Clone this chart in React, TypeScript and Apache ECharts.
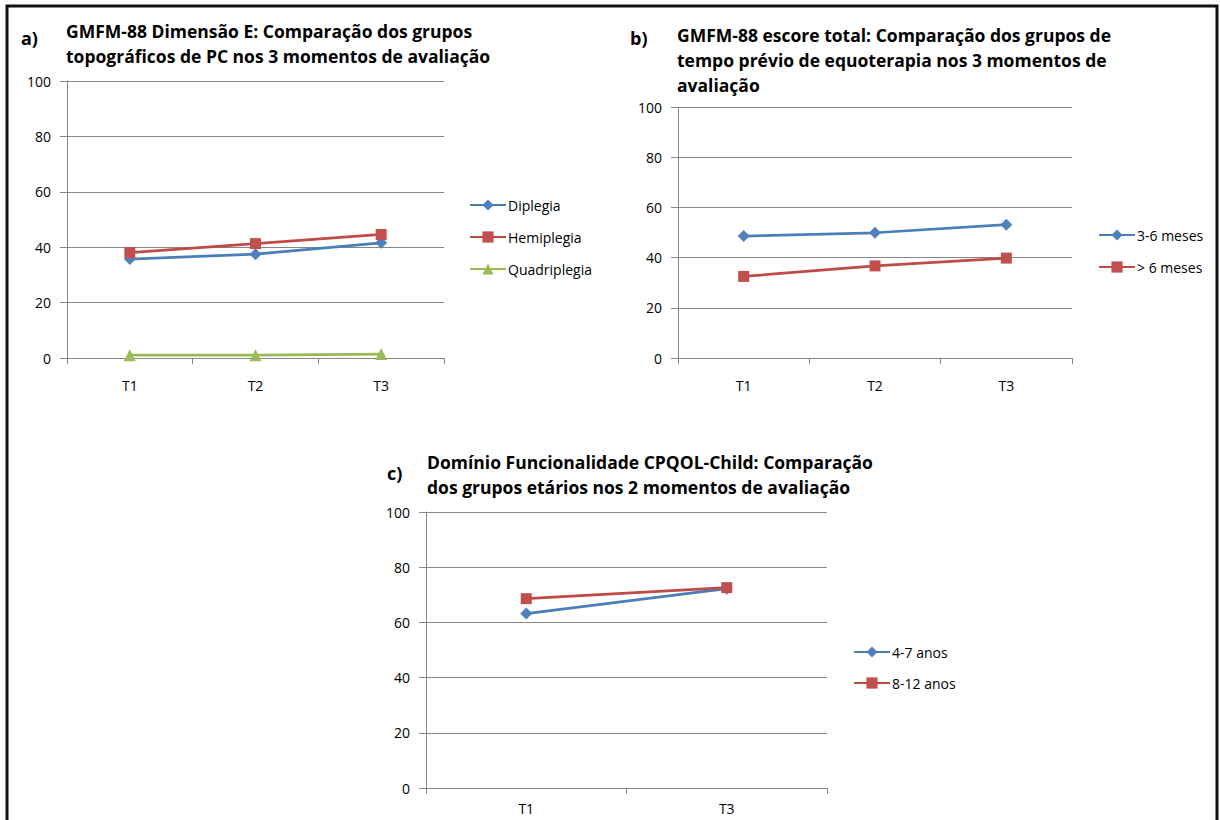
import React, { useEffect, useRef } from "react";
import * as echarts from "echarts";

// ---- data ----
const categoriesA = ["T1", "T2", "T3"];
const diplegia = [35.7, 37.5, 41.6];
const hemiplegia = [38.0, 41.3, 44.6];
const quadriplegia = [1.0, 1.0, 1.4];

const categoriesB = ["T1", "T2", "T3"];
const meses3a6 = [48.6, 49.9, 53.1];
const mesesMais6 = [32.5, 36.7, 39.8];

const categoriesC = ["T1", "T3"];
const anos4a7 = [63.2, 72.2];
const anos8a12 = [68.6, 72.6];

const titleA = "GMFM-88 Dimensão E: Comparação dos grupos\ntopográficos de PC nos 3 momentos de avaliação";
const titleB = "GMFM-88 escore total: Comparação dos grupos de\ntempo prévio de equoterapia nos 3 momentos de\navaliação";
const titleC = "Domínio Funcionalidade CPQOL-Child: Comparação\ndos grupos etários nos 2 momentos de avaliação";

const FONT = "'Open Sans', 'DejaVu Sans', sans-serif";
const BLUE_LINE = "#4a7ebb";
const BLUE = "#4f81bd";
const RED_LINE = "#be4b48";
const RED = "#c0504d";
const GREEN_LINE = "#98b954";
const GREEN = "#9bbb59";
const GRID = "#868686";

export default function App() {
  const ref = useRef<HTMLDivElement>(null);
  useEffect(() => {
    document.body.style.margin = "0";
    const chart = echarts.init(ref.current!, undefined, { renderer: "svg" });

    const grids = [
      { left: 67, top: 81, width: 377, height: 277 },
      { left: 678, top: 107, width: 394, height: 251 },
      { left: 426, top: 512, width: 401, height: 276 },
    ];
    const cats = [categoriesA, categoriesB, categoriesC];
    const xMargins = [20, 20, 13];

    const xAxes = cats.map((c, i) => ({
      type: "category",
      gridIndex: i,
      data: c,
      boundaryGap: true,
      axisLine: { lineStyle: { color: GRID, width: 1 } },
      axisTick: { show: true, length: 6, interval: 0, lineStyle: { color: GRID } },
      axisLabel: { color: "#000", fontFamily: FONT, fontSize: 14, margin: xMargins[i] },
    }));
    const yAxes = cats.map((_, i) => ({
      type: "value",
      gridIndex: i,
      min: 0,
      max: 100,
      interval: 20,
      axisLine: { show: true, lineStyle: { color: GRID, width: 1 } },
      axisTick: { show: true, length: 7, lineStyle: { color: GRID } },
      axisLabel: { color: "#000", fontFamily: FONT, fontSize: 14, margin: 16 },
      splitLine: { show: true, lineStyle: { color: GRID, width: 1 } },
    }));

    const mk = (name: string, data: number[], idx: number, lineColor: string, color: string, symbol: string, size: number) => ({
      name,
      type: "line",
      xAxisIndex: idx,
      yAxisIndex: idx,
      data,
      symbol,
      symbolSize: size,
      lineStyle: { color: lineColor, width: 2.75 },
      itemStyle: { color },
      emphasis: { disabled: true },
    });

    const legendBase = {
      orient: "vertical",
      itemWidth: 36,
      itemHeight: 14,
      itemGap: 18,
      padding: 0,
      textStyle: { color: "#000", fontFamily: FONT, fontSize: 14, padding: [0, 0, 0, -3] },
      selectedMode: false,
    };

    const titleStyle = { color: "#000", fontFamily: FONT, fontSize: 17.5, fontWeight: "bold", lineHeight: 25 };
    const labelStyle = { color: "#000", fontFamily: FONT, fontSize: 18, fontWeight: "bold" };

    chart.setOption({
      animation: false,
      backgroundColor: "#fff",
      title: [
        { text: "a)", left: 21, top: 29, textStyle: labelStyle, padding: 0 },
        { text: titleA, left: 66, top: 18, textStyle: titleStyle, padding: 0 },
        { text: "b)", left: 630, top: 29, textStyle: labelStyle, padding: 0 },
        { text: titleB, left: 677, top: 22, textStyle: titleStyle, padding: 0 },
        { text: "c)", left: 387, top: 464, textStyle: labelStyle, padding: 0 },
        { text: titleC, left: 427, top: 449, textStyle: titleStyle, padding: 0 },
      ],
      grid: grids,
      xAxis: xAxes,
      yAxis: yAxes,
      legend: [
        { ...legendBase, data: ["Diplegia", "Hemiplegia", "Quadriplegia"], left: 469, top: 198 },
        { ...legendBase, data: ["3-6 meses", "> 6 meses"], left: 1098, top: 228 },
        { ...legendBase, data: ["4-7 anos", "8-12 anos"], left: 853, top: 645, itemGap: 17 },
      ],
      series: [
        mk("Diplegia", diplegia, 0, BLUE_LINE, BLUE, "diamond", 12),
        mk("Hemiplegia", hemiplegia, 0, RED_LINE, RED, "rect", 11),
        mk("Quadriplegia", quadriplegia, 0, GREEN_LINE, GREEN, "triangle", 12),
        mk("3-6 meses", meses3a6, 1, BLUE_LINE, BLUE, "diamond", 12),
        mk("> 6 meses", mesesMais6, 1, RED_LINE, RED, "rect", 11),
        mk("4-7 anos", anos4a7, 2, BLUE_LINE, BLUE, "diamond", 12),
        mk("8-12 anos", anos8a12, 2, RED_LINE, RED, "rect", 11),
      ],
      graphic: [
        {
          type: "rect",
          shape: { x: 7, y: 6, width: 1210, height: 840 },
          style: { fill: "none", stroke: "#111", lineWidth: 3 },
          silent: true,
          z: 100,
        },
      ],
    });
    return () => chart.dispose();
  }, []);
  return <div ref={ref} style={{ width: 1220, height: 820 }} />;
}
